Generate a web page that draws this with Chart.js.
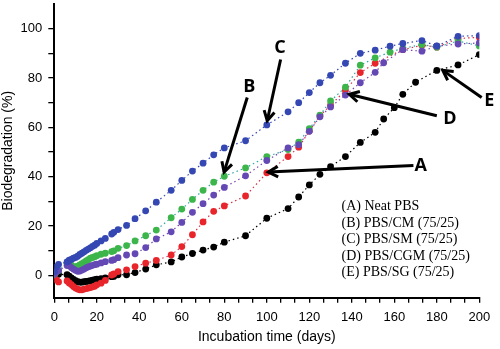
<!DOCTYPE html>
<html>
<head>
<meta charset="utf-8">
<script src="https://cdn.jsdelivr.net/npm/chart.js@4.4.1/dist/chart.umd.min.js"></script>
<style>
  html, body { margin: 0; padding: 0; background: #fff; }
  #wrap { width: 500px; height: 349px; position: relative; }
</style>
</head>
<body>
<div id="wrap"><canvas id="c" width="500" height="349"></canvas></div>
<script>
// Sampling days (union of all series); null = no measurement for that series on that day
const days = [0, 1, 2, 6, 7, 8, 9, 10, 11, 12, 13, 14, 15, 16, 17, 18, 19, 20, 22, 24, 27, 28, 30, 34,
  38, 43, 48, 55, 60, 65, 70, 75, 80, 90, 100, 110, 115, 120, 125, 130, 137, 144, 151, 155, 158, 160,
  164, 170, 173, 180, 190, 200];

// (A) Neat PBS
const neatPBS = [0, -1.8, -2.6, -2.2, -3.0, -3.7, -4.5, -5.1, -5.5, -5.8, -5.8, -5.5, -5.3, -5.1, -4.9, -4.6,
  -4.4, -3.8, -3.1, -2.0, 0.2, 0.6, 1.6, 2.3, 3.6, 5.0, 6.1, 8.3, 11.7, 16.5, 21.7, 26.0, 28.2, 32.2,
  41.6, 48.2, 52.0, 58.5, 64.7, 69.0, 75.0, 82.2, 86.0, null, null, null, 91.5, null, 93.3, 92.5, 96.0, 96.5];

// (B) PBS/CM (75/25)
const pbsCM = [0.5, 1.5, 2.0, 5.0, 5.0, 4.2, 3.6, 3.5, 3.8, 4.3, 4.8, 5.3, 5.9, 6.4, 7.0, 7.3,
  7.6, 8.0, 8.6, 9.0, 9.7, 10.0, 11.0, 12.1, 14.0, 16.1, 18.4, 23.4, 26.9, 30.8, 34.5, 37.8, 40.2, 43.6,
  48.2, 51.0, 54.0, 59.5, 65.0, 70.7, 76.3, 85.2, 88.2, null, 90.5, null, 92.0, null, 93.6, 92.5, 95.0, 93.0];

// (C) PBS/SM (75/25)
const pbsSM = [1.5, 3.5, 4.5, 5.5, 6.2, 6.5, 7.0, 7.3, 7.8, 8.5, 9.0, 9.6, 10.2, 10.7, 11.2, 11.8,
  12.3, 13.0, 14.0, 15.0, 16.8, 17.5, 18.6, 20.3, 23.0, 26.2, 29.7, 34.5, 38.5, 42.3, 45.5, 48.9, 51.7, 54.6,
  61.0, 66.3, 70.0, 74.1, 78.1, 81.1, 86.0, 90.0, 91.3, null, 92.9, null, 94.0, null, 95.2, 93.0, 96.9, 97.2];

// (D) PBS/CGM (75/25)
const pbsCGM = [0.5, 1.5, 2.0, 4.0, 4.0, 3.2, 2.6, 2.1, 1.7, 1.8, 2.2, 2.6, 3.1, 3.5, 3.8, 4.1,
  4.4, 4.6, 5.1, 5.6, 6.1, 6.4, 7.2, 8.3, 8.8, 11.3, 14.8, 17.7, 21.5, 25.6, 29.1, 32.6, 35.7, 40.4,
  46.6, 51.7, 53.0, 58.4, 64.3, 68.3, 73.1, 78.1, 82.3, 86.2, null, null, 91.5, null, 90.9, 92.9, 93.8, 94.2];

// (E) PBS/SG (75/25)
const pbsSG = [0, 1.0, 0.5, 0.3, -0.3, -1.0, -1.6, -2.1, -2.5, -2.7, -2.7, -2.5, -2.4, -2.3, -2.1, -1.9,
  -1.7, -1.5, -1.3, -1.0, -0.5, -0.4, 0.3, 0.3, 1.2, 2.6, 4.3, 5.5, 7.5, 8.9, 10.3, 11.5, 13.5, 16.1,
  23.2, 27.1, 31.8, 36.7, 41.0, 44.1, 48.2, 53.9, 58.0, 63.4, null, 68.0, 73.4, 78.3, null, 83.1, 85.3, 89.5];

const seriesLabels = ['(A) Neat PBS', '(B) PBS/CM (75/25)', '(C) PBS/SM (75/25)', '(D) PBS/CGM (75/25)', '(E) PBS/SG (75/25)'];

// Axis ticks: x major every 20 with two minor ticks between, y major every 20 with one minor
const xTickValues = Array.from({ length: 31 }, (_, i) => i * 20 / 3);
const yTickValues = [0, 10, 20, 30, 40, 50, 60, 70, 80, 90, 100];

function points(vals) {
  return days.map((d, i) => ({ x: d, y: vals[i] })).filter(p => p.y !== null);
}

function series(label, vals, color, lineColor, order) {
  return {
    label, data: points(vals), order,
    borderColor: lineColor, backgroundColor: color,
    pointBackgroundColor: color, pointBorderWidth: 0, pointRadius: 3.4,
    borderWidth: 1.2, borderDash: [1.5, 3], tension: 0, fill: false
  };
}

// Arrow call-outs, in data coordinates
const callouts = [
  { text: 'A', at: [172.4, 44.6], from: [169.0, 44.6], to: [100.7, 41.9] },
  { text: 'B', at: [91.8, 76.3], from: [90.8, 72.1], to: [79.9, 41.9] },
  { text: 'C', at: [106.2, 92.2], from: [106.5, 87.5], to: [100.2, 62.7] },
  { text: 'D', at: [186.2, 63.4], from: [180.0, 64.7], to: [138.8, 73.4] },
  { text: 'E', at: [204.7, 70.7], from: [201.1, 72.1], to: [182.8, 83.1] }
];

const calloutPlugin = {
  id: 'callouts',
  afterDraw(chart) {
    const { ctx, scales: { x, y } } = chart;
    ctx.save();
    ctx.strokeStyle = '#000';
    ctx.fillStyle = '#000';
    ctx.lineWidth = 3;
    ctx.lineCap = 'butt';
    ctx.lineJoin = 'miter';
    for (const c of callouts) {
      const x1 = x.getPixelForValue(c.from[0]), y1 = y.getPixelForValue(c.from[1]);
      const x2 = x.getPixelForValue(c.to[0]), y2 = y.getPixelForValue(c.to[1]);
      const ang = Math.atan2(y2 - y1, x2 - x1);
      ctx.beginPath();
      ctx.moveTo(x1, y1);
      ctx.lineTo(x2, y2);
      ctx.stroke();
      const head = 11, spread = 0.5;
      ctx.beginPath();
      ctx.moveTo(x2 - head * Math.cos(ang - spread), y2 - head * Math.sin(ang - spread));
      ctx.lineTo(x2, y2);
      ctx.lineTo(x2 - head * Math.cos(ang + spread), y2 - head * Math.sin(ang + spread));
      ctx.stroke();
      ctx.font = 'bold 18px "Open Sans", "Liberation Sans", sans-serif';
      ctx.textAlign = 'center';
      ctx.textBaseline = 'middle';
      ctx.fillText(c.text, x.getPixelForValue(c.at[0]), y.getPixelForValue(c.at[1]));
    }
    // Series key, plain serif text in the lower right of the plot
    ctx.font = '14px "Liberation Serif", "DejaVu Serif", serif';
    ctx.textAlign = 'left';
    ctx.textBaseline = 'middle';
    seriesLabels.forEach((t, i) => ctx.fillText(t, 341.5, 206.8 + i * 16.4));
    ctx.restore();
  }
};

const tickFont = { family: '"Liberation Sans", Arial, sans-serif', size: 13 };
const titleFont = { family: '"Liberation Sans", Arial, sans-serif', size: 14 };

new Chart(document.getElementById('c'), {
  type: 'line',
  data: {
    datasets: [
      series(seriesLabels[2], pbsSM, '#3447b2', '#3447b2', 0),
      series(seriesLabels[3], pbsCGM, '#6449b5', '#7a45b0', 1),
      series(seriesLabels[1], pbsCM, '#3cb64a', '#2fa6a0', 2),
      series(seriesLabels[0], neatPBS, '#e8252b', '#d8304a', 3),
      series(seriesLabels[4], pbsSG, '#000000', '#000000', 4)
    ]
  },
  options: {
    responsive: false,
    animation: false,
    layout: { padding: { top: 2.7, right: 20.7, left: 0, bottom: 0 } },
    plugins: { legend: { display: false }, tooltip: { enabled: false } },
    scales: {
      x: {
        type: 'linear', min: 0, max: 200,
        afterBuildTicks: s => { s.ticks = xTickValues.map(v => ({ value: v })); },
        afterFit: s => { s.height = 51.3; s.paddingLeft = 0; s.paddingRight = 0; },
        ticks: {
          autoSkip: false, maxRotation: 0, color: '#000', font: tickFont, padding: 7,
          callback: v => Math.abs(v / 20 - Math.round(v / 20)) < 1e-6 ? String(Math.round(v)) : ''
        },
        grid: { drawOnChartArea: false, drawTicks: true, tickLength: 5, color: '#000', lineWidth: 1.3 },
        border: { display: true, color: '#000', width: 2 },
        title: { display: true, text: 'Incubation time (days)', color: '#000', font: titleFont, padding: { top: 0, bottom: 3.5 } }
      },
      y: {
        type: 'linear', min: -9, max: 110,
        afterBuildTicks: s => { s.ticks = yTickValues.map(v => ({ value: v })); },
        afterFit: s => { s.width = 54.3; s.paddingTop = 0; s.paddingBottom = 0; },
        ticks: {
          color: '#000', font: tickFont, padding: 6,
          callback: v => v % 20 === 0 ? String(v) : ''
        },
        grid: { drawOnChartArea: false, drawTicks: true, tickLength: 6, color: '#000', lineWidth: 1.3 },
        border: { display: true, color: '#000', width: 2 },
        title: { display: true, text: 'Biodegradation (%)', color: '#000', font: titleFont, padding: { top: 0, bottom: 0 } }
      }
    }
  },
  plugins: [calloutPlugin]
});
</script>
</body>
</html>
